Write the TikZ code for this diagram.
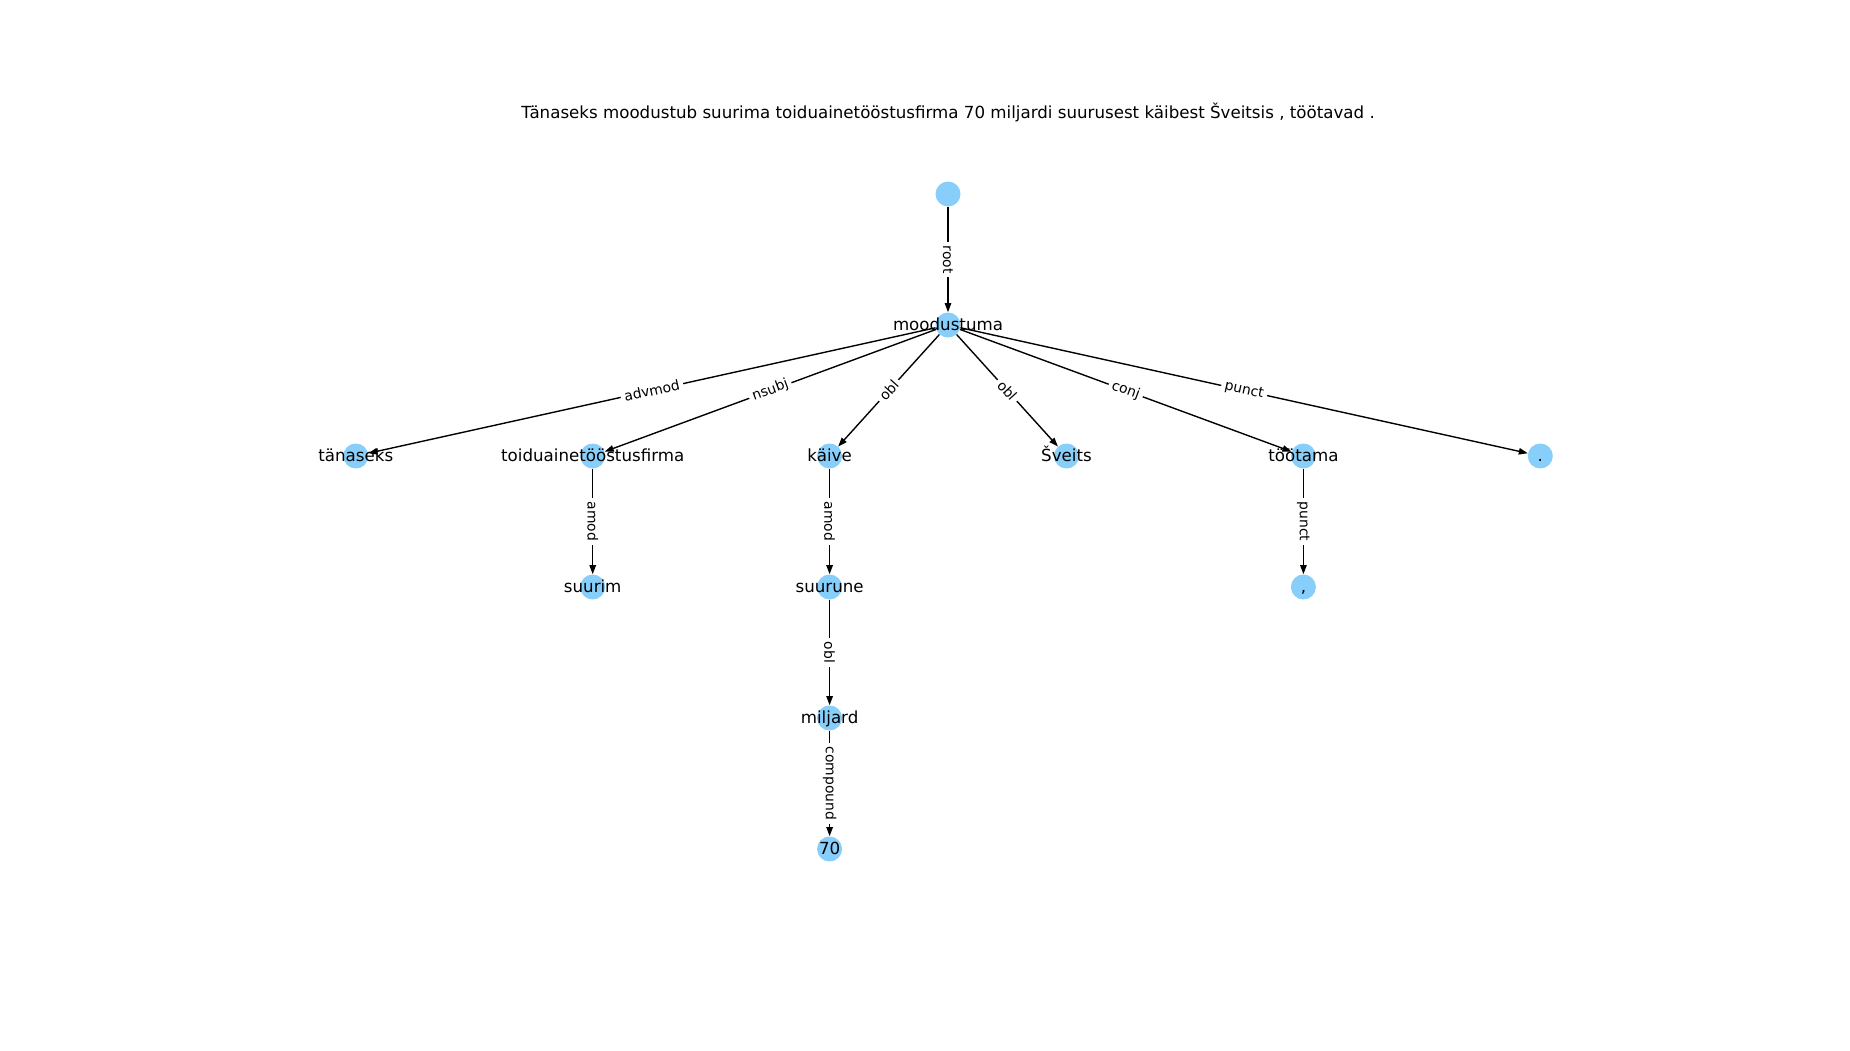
\documentclass[tikz,border=0pt]{standalone}
\usepackage{fontspec}
\setmainfont{DejaVu Sans}
\usetikzlibrary{arrows.meta}
\begin{document}
\begin{tikzpicture}[x=0.72pt,y=-0.72pt,
  tok/.style={circle,fill={rgb,255:red,135;green,206;blue,250},draw=none,
    minimum size=18pt,inner sep=0pt},
  tokname/.style={font=\fontsize{12}{14}\selectfont,inner sep=0pt,
    text height=0.86em,text depth=0.14em},
  dep/.style={draw=black,line width=1pt,
    -{Triangle[length=6.5pt,width=4.6pt]}},
  rel/.style={midway,sloped,fill=white,inner sep=2.6pt,
    font=\fontsize{10}{12}\selectfont},
  vrel/.style={midway,rotate=-90,fill=white,inner sep=2.6pt,
    font=\fontsize{10}{12}\selectfont}]
\useasboundingbox (0,0) rectangle (1850,1050);

\node[font=\fontsize{12}{14}\selectfont] (title) at (948,112)
  {Tänaseks moodustub suurima toiduainetööstusfirma 70 miljardi suurusest käibest Šveitsis , töötavad .};

% tree nodes
\node[tok] (r)   at (948,194) {};
\node[tok] (m)   at (948,325) {};
\node[tok] (tan) at (355.8,456) {};
\node[tok] (toi) at (592.7,456) {};
\node[tok] (kai) at (829.6,456) {};
\node[tok] (sve) at (1066.5,456) {};
\node[tok] (too) at (1303.4,456) {};
\node[tok] (dot) at (1540.3,456) {};
\node[tok] (suu) at (592.7,587) {};
\node[tok] (sun) at (829.6,587) {};
\node[tok] (com) at (1303.4,587) {};
\node[tok] (mil) at (829.6,718) {};
\node[tok] (sev) at (829.6,849) {};

% dependency arcs
\draw[dep] (r) -- (m) node[vrel] {root};
\draw[dep] (m) -- (tan) node[rel] {advmod};
\draw[dep] (m) -- (toi) node[rel] {nsubj};
\draw[dep] (m) -- (kai) node[rel] {obl};
\draw[dep] (m) -- (sve) node[rel] {obl};
\draw[dep] (m) -- (too) node[rel] {conj};
\draw[dep] (m) -- (dot) node[rel] {punct};
\draw[dep] (toi) -- (suu) node[vrel] {amod};
\draw[dep] (kai) -- (sun) node[vrel] {amod};
\draw[dep] (sun) -- (mil) node[vrel] {obl};
\draw[dep] (mil) -- (sev) node[vrel] {compound};
\draw[dep] (too) -- (com) node[vrel] {punct};

% word labels on top
\node[tokname] (lm)   at (m)   {moodustuma};
\node[tokname] (ltan) at (tan) {tänaseks};
\node[tokname] (ltoi) at (toi) {toiduainetööstusfirma};
\node[tokname] (lkai) at (kai) {käive};
\node[tokname] (lsve) at (sve) {Šveits};
\node[tokname] (ltoo) at (too) {töötama};
\node[tokname] (ldot) at (dot) {.};
\node[tokname] (lsuu) at (suu) {suurim};
\node[tokname] (lsun) at (sun) {suurune};
\node[tokname] (lcom) at (com) {,};
\node[tokname] (lmil) at (mil) {miljard};
\node[tokname] (lsev) at (sev) {70};
\end{tikzpicture}
\end{document}
